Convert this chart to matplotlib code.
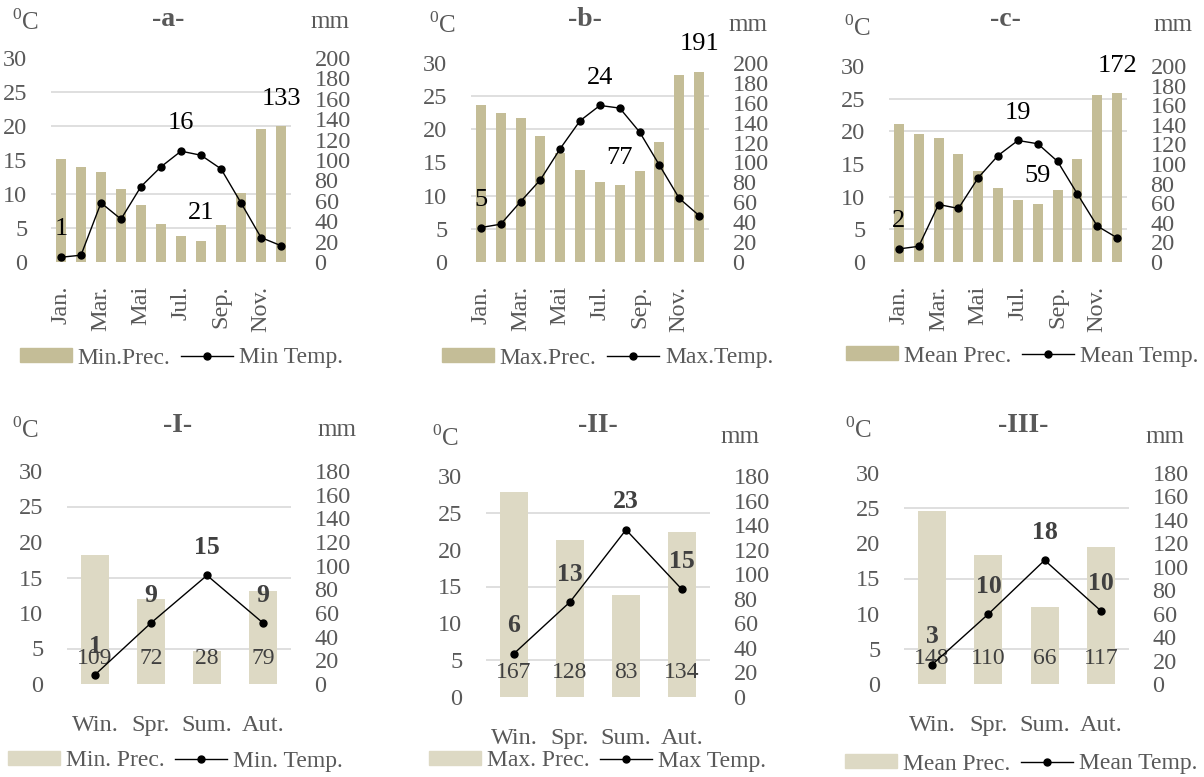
import matplotlib.pyplot as plt
from matplotlib.patches import Patch
from matplotlib.lines import Line2D

plt.rcParams['font.family'] = 'Liberation Serif'
plt.rcParams['mathtext.fontset'] = 'custom'
plt.rcParams['mathtext.rm'] = 'Liberation Serif'

month_ticks = ["Jan.", "", "Mar.", "", "Mai", "", "Jul.", "", "Sep.", "", "Nov.", ""]
seasons = ["Win.", "Spr.", "Sum.", "Aut."]

# monthly data
min_prec = [101, 93, 88, 72, 56, 37, 25, 21, 36, 68, 130, 133]
min_temp = [0.7, 1.0, 8.7, 6.3, 11.1, 14.0, 16.3, 15.7, 13.7, 8.7, 3.6, 2.4]
max_prec = [158, 150, 145, 127, 110, 92, 80, 77, 91, 121, 188, 191]
max_temp = [5.2, 5.7, 9.1, 12.4, 17.1, 21.3, 23.6, 23.2, 19.6, 14.6, 9.6, 7.0]
mean_prec = [141, 131, 127, 110, 93, 75, 63, 59, 73, 105, 170, 172]
mean_temp = [2.0, 2.4, 8.8, 8.2, 12.9, 16.3, 18.6, 18.1, 15.4, 10.4, 5.5, 3.7]

# seasonal data
s_min_prec = [109, 72, 28, 79]
s_min_temp = [1.3, 8.6, 15.3, 8.6]
s_max_prec = [167, 128, 83, 134]
s_max_temp = [5.9, 12.9, 22.7, 14.6]
s_mean_prec = [148, 110, 66, 117]
s_mean_temp = [2.75, 9.95, 17.6, 10.4]

W, H = 1204, 777
fig = plt.figure(figsize=(12.04, 7.77), dpi=100)

GRAY = '#595959'
DARK = '#404040'


def box(l, t, r, b):
    return [l / W, 1 - b / H, (r - l) / W, (b - t) / H]


def px(x, y):
    return x / W, 1 - y / H


def panel(rect, ticks, prec, temp, rmax, bar_color, rotate):
    n = len(prec)
    ax = fig.add_axes(rect)
    ax2 = ax.twinx()
    ax.set_zorder(ax2.get_zorder() + 1)
    ax.patch.set_visible(False)

    # grid on the right axis, behind the bars, matching left ticks
    ax2.set_yticks([rmax * k / 6 for k in range(7)], minor=True)
    ax2.grid(which='minor', color='#d9d9d9', lw=1.2)
    ax2.set_axisbelow(True)
    ax2.bar(range(n), prec, width=0.5, color=bar_color, zorder=2)
    ax2.set_ylim(0, rmax)
    ax2.set_yticks(range(0, rmax + 1, 20))

    ax.plot(range(n), temp, color='black', lw=1, marker='o', ms=5)
    ax.set_ylim(0, 30)
    ax.set_xlim(-0.5, n - 0.5)
    ax.set_yticks(range(0, 31, 5))
    ax.set_xticks(range(n))
    ax.set_xticklabels(ticks, rotation=90 if rotate else 0)

    for a in (ax, ax2):
        for s in a.spines.values():
            s.set_visible(False)
        a.tick_params(length=0, labelsize=17.5, colors=GRAY, pad=17)
        a.tick_params(which='minor', length=0)
    if not rotate:
        ax.tick_params(axis='x', pad=22)
    return ax, ax2


def legend(x, y, prec_name, temp_name, bar_color):
    handles = [Patch(color=bar_color),
               Line2D([], [], color='black', lw=1, marker='o', ms=5)]
    fig.legend(handles, [prec_name, temp_name], loc='center left',
               bbox_to_anchor=px(x, y), ncol=2, frameon=False, fontsize=17,
               handlelength=2.2, handleheight=0.55, handletextpad=0.25,
               columnspacing=0.45, borderpad=0, borderaxespad=0, labelcolor=GRAY)


def heads(title, xt, yt, xc, yc, xm, ym):
    fig.text(*px(xt, yt), title, ha='center', va='center', fontsize=20,
             fontweight='bold', color=GRAY)
    fig.text(*px(xc, yc), r'$^{0}$C', ha='center', va='center', fontsize=18, color=GRAY)
    fig.text(*px(xm, ym), 'mm', ha='center', va='center', fontsize=18, color=GRAY)


def label(a, x, y, text, **kw):
    a.annotate(text, (x, y), xytext=(0, 20), textcoords='offset points',
               ha='center', va='center', **kw)


TAN = '#c4bd97'
LIGHT = '#ddd9c4'

top = [
    (box(51, 58, 291, 262), min_prec, min_temp, '-a-', (168, 20, 25, 22, 330, 22),
     (20, 358), 'Min.Prec.', 'Min Temp.'),
    (box(471, 63, 709, 262), max_prec, max_temp, '-b-', (585, 20, 442, 25, 748, 25),
     (442, 358), 'Max.Prec.', 'Max.Temp.'),
    (box(889, 66, 1127, 262), mean_prec, mean_temp, '-c-', (1005, 20, 857, 28, 1173, 25),
     (846, 356), 'Mean Prec.', 'Mean Temp.'),
]

for rect, prec, temp, title, hp, lp, pn, tn in top:
    ax, ax2 = panel(rect, month_ticks, prec, temp, 200, TAN, True)
    for i in (temp.index(min(temp)), temp.index(max(temp))):
        label(ax, i, temp[i], f"{temp[i]:.0f}", fontsize=19, color='black')
    for i in (prec.index(min(prec)), prec.index(max(prec))):
        label(ax2, i, prec[i], f"{prec[i]:.0f}", fontsize=19, color='black')
    heads(title, *hp)
    legend(*lp, pn, tn, TAN)

bottom = [
    (box(67, 471, 291, 684), s_min_prec, s_min_temp, '-I-', (178, 425, 25, 430, 337, 430),
     (8, 761), 'Min. Prec.', 'Min. Temp.'),
    (box(486, 476, 710, 697), s_max_prec, s_max_temp, '-II-', (598, 425, 445, 438, 740, 437),
     (429, 761), 'Max. Prec.', 'Max Temp.'),
    (box(904, 473, 1129, 684), s_mean_prec, s_mean_temp, '-III-', (1023, 425, 858, 430, 1165, 437),
     (845, 764), 'Mean Prec.', 'Mean Temp.'),
]

for rect, prec, temp, title, hp, lp, pn, tn in bottom:
    ax, ax2 = panel(rect, seasons, prec, temp, 180, LIGHT, False)
    for i in range(4):
        label(ax, i, temp[i], f"{temp[i]:.0f}", fontsize=18.5, fontweight='bold', color=DARK)
        ax2.annotate(f"{prec[i]}", (i, 0), xytext=(0, 18), textcoords='offset points',
                     ha='center', va='center', fontsize=17, color=DARK)
    heads(title, *hp)
    legend(*lp, pn, tn, LIGHT)

plt.savefig('out.png', dpi=100)
